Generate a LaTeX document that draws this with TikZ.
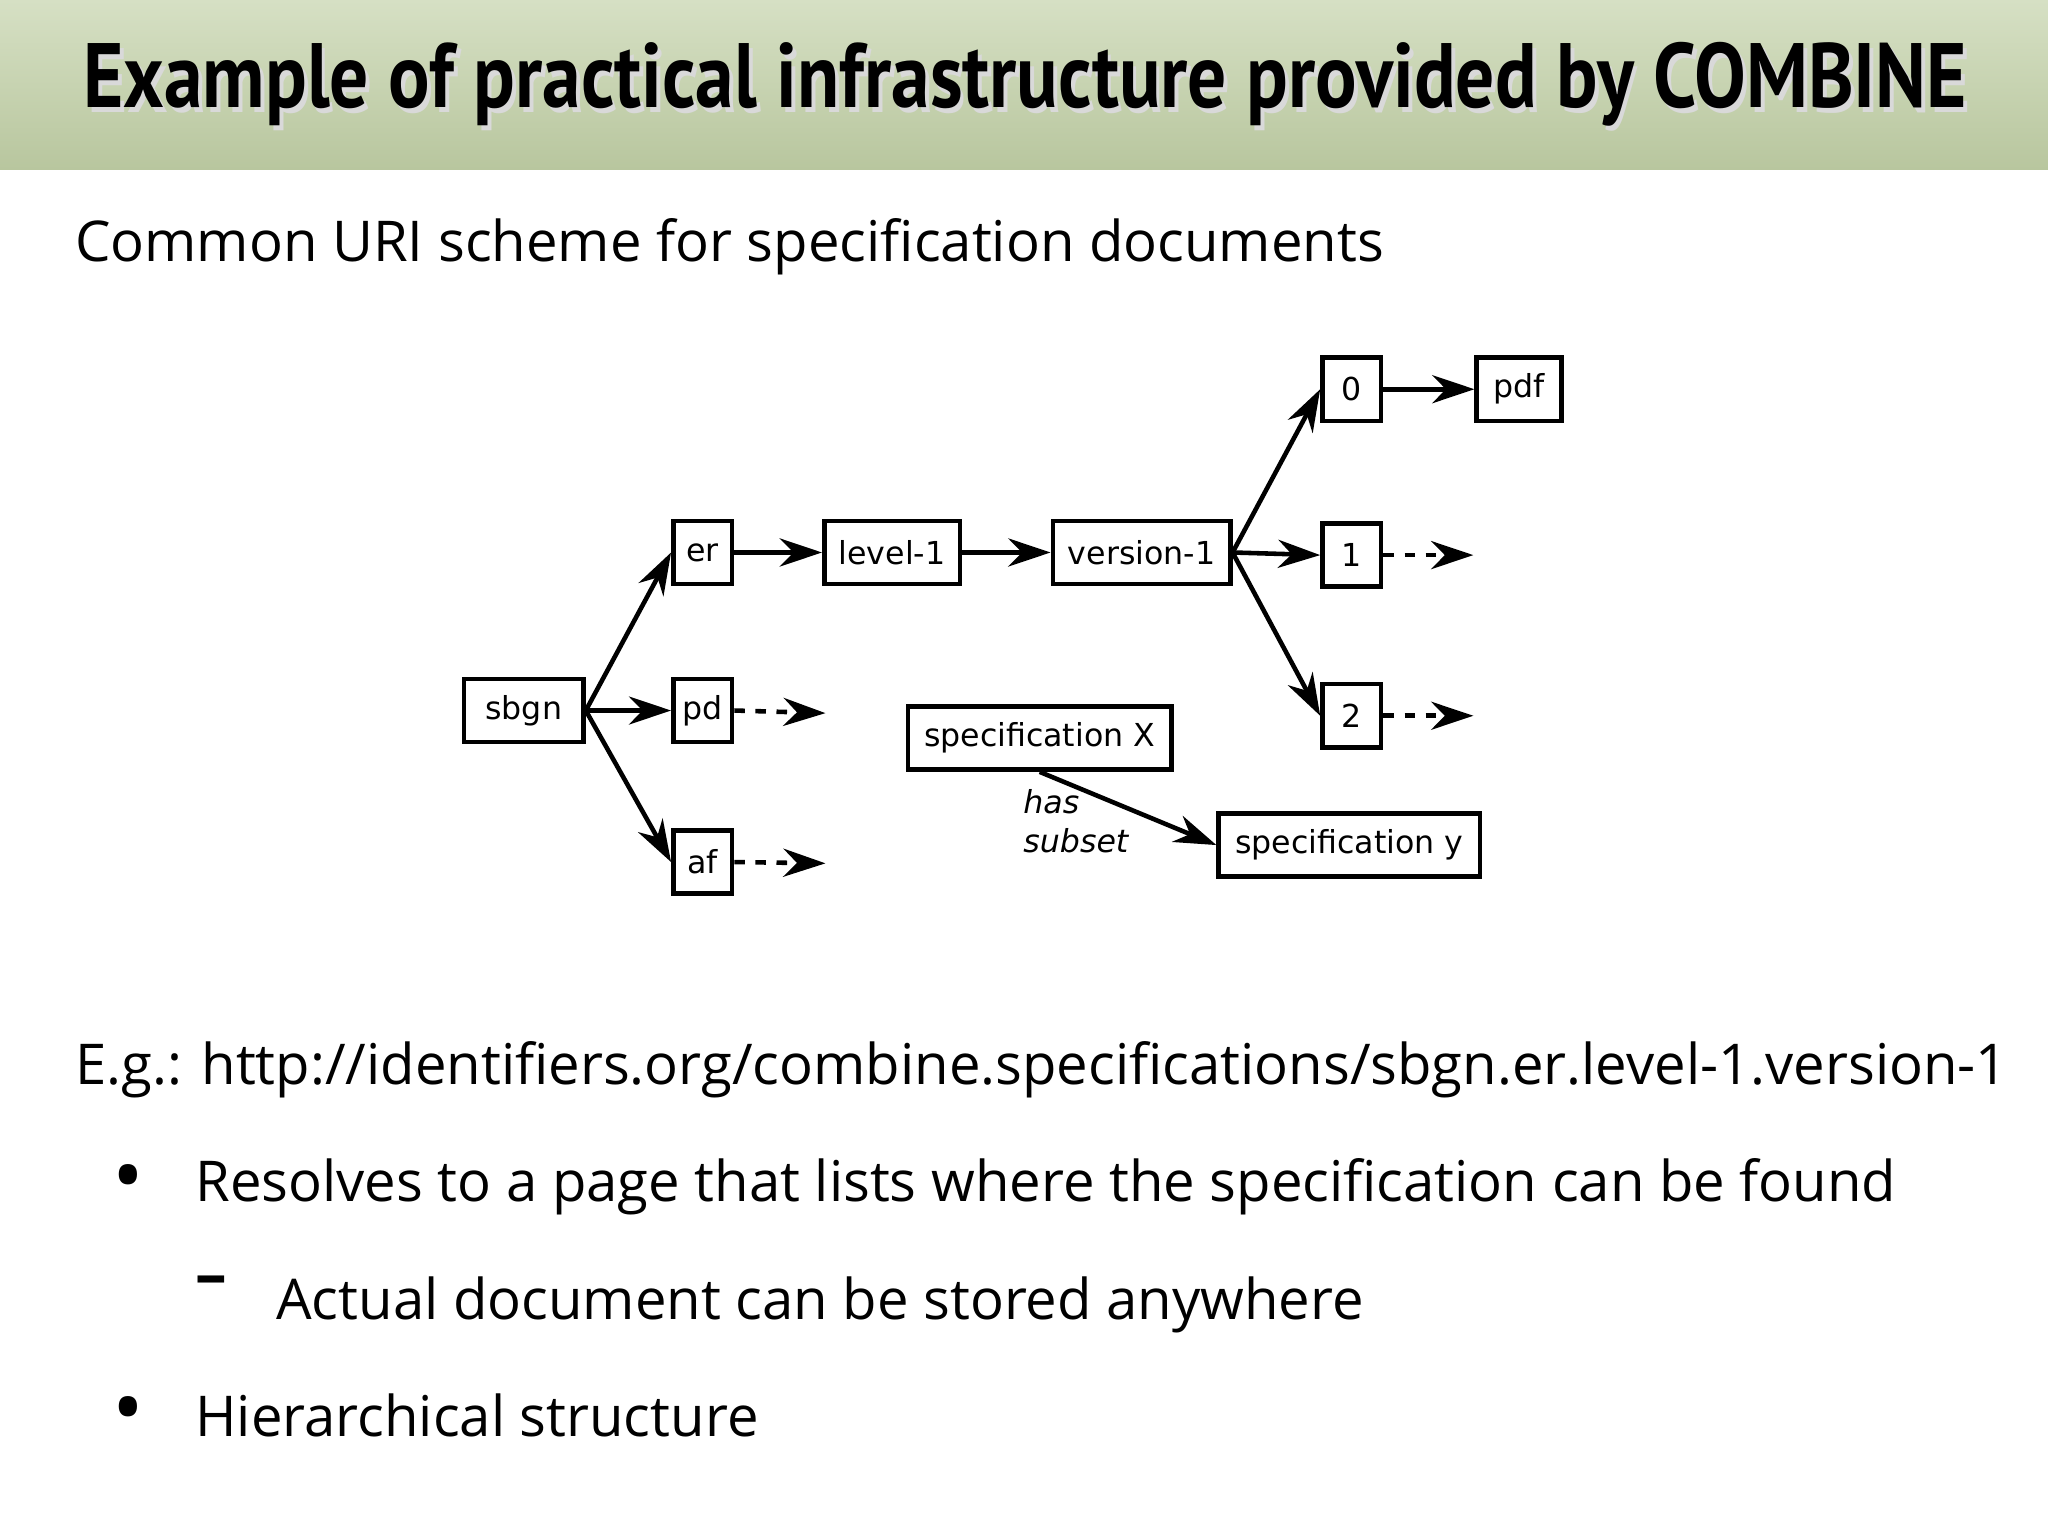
\documentclass[tikz,border=0pt]{standalone}
\usepackage{fontspec}
\setmainfont{Open Sans}
\newfontfamily\titlefont{PT Sans}
\newfontfamily\boxfont{DejaVu Sans}
\usetikzlibrary{arrows.meta}
\begin{document}
\begin{tikzpicture}[x=0.013061cm,y=-0.013061cm,
  bx/.style={draw,line width=1.3pt,font=\boxfont\fontsize{9}{10}\selectfont,inner sep=0pt,minimum height=18pt},
  ar/.style={line width=1.3pt,-{Stealth[length=12pt,width=8pt]}},
  da/.style={ar,dash pattern=on 3pt off 3pt},
  body/.style={anchor=base west,font=\fontsize{16}{18}\selectfont,inner sep=0pt},
  bmark/.style={anchor=center,inner sep=0pt,font=\fontsize{24}{24}\selectfont}]
\useasboundingbox (0,0) rectangle (1568,1176);
\shade[top color={rgb,255:red,214;green,224;blue,196},bottom color={rgb,255:red,184;green,198;blue,158}] (0,0) rectangle (1568,130);
\node[anchor=base,inner sep=0pt,text=black!15] (shadow) at (788,86) {\scalebox{0.847}[1]{\titlefont\bfseries\fontsize{26}{30}\selectfont Example of practical infrastructure provided by COMBINE}};
\node[anchor=base,inner sep=0pt] (title) at (785,82) {\scalebox{0.847}[1]{\titlefont\bfseries\fontsize{26}{30}\selectfont Example of practical infrastructure provided by COMBINE}};
\node[body] (sub) at (57,200) {Common URI scheme for specification documents};

\node[bx,minimum width=34pt] (sbgn) at (401,544) {sbgn};
\node[bx,minimum width=16.7pt] (er) at (538,423) {er};
\node[bx,minimum width=16.7pt] (pd) at (538,544) {pd};
\node[bx,minimum width=16.7pt] (af) at (538,660) {af};
\node[bx,minimum width=38.6pt] (lev) at (683,423) {level-1};
\node[bx,minimum width=50.5pt] (ver) at (874,423) {version-1};
\node[bx,minimum width=16.7pt] (n0) at (1035,298) {0};
\node[bx,minimum width=24.1pt] (pdf) at (1163,298) {pdf};
\node[bx,minimum width=16.7pt] (n1) at (1035,425) {1};
\node[bx,minimum width=16.7pt] (n2) at (1035,548) {2};
\node[bx,minimum width=75pt] (sx) at (796,565) {specification X};
\node[bx,minimum width=74.3pt] (sy) at (1033,647) {specification y};
\coordinate (pde) at (632,546);
\coordinate (afe) at (632,661);
\coordinate (n1e) at (1128,425);
\coordinate (n2e) at (1128,548);

\draw[ar] (sbgn.east) -- (er.west);
\draw[ar] (sbgn.east) -- (pd.west);
\draw[ar] (sbgn.east) -- (af.west);
\draw[ar] (er) -- (lev);
\draw[ar] (lev) -- (ver);
\draw[ar] (ver.east) -- (n0.west);
\draw[ar] (ver.east) -- (n1.west);
\draw[ar] (ver.east) -- (n2.west);
\draw[ar] (n0) -- (pdf);
\draw[da] (pd.east) -- (pde);
\draw[da] (af.east) -- (afe);
\draw[da] (n1.east) -- (n1e);
\draw[da] (n2.east) -- (n2e);
\draw[ar] (sx.south) -- (sy.west);
\node[anchor=north west,align=left,inner sep=0pt,font=\boxfont\itshape\fontsize{9}{11}\selectfont] (lab) at (783,604) {has\\subset};

\node[body] (eg) at (57,830) {E.g.: http://identifiers.org/combine.specifications/sbgn.er.level-1.version-1};
\node[bmark] (b1) at (98,907) {\textbullet};
\node[body] (t1) at (149,920) {Resolves to a page that lists where the specification can be found};
\node[bmark,font=\fontsize{18}{18}\selectfont\bfseries] (d1) at (162,985) {--};
\node[body] (t2) at (211,1010) {Actual document can be stored anywhere};
\node[bmark] (b2) at (98,1085) {\textbullet};
\node[body] (t3) at (149,1100) {Hierarchical structure};
\end{tikzpicture}
\end{document}
